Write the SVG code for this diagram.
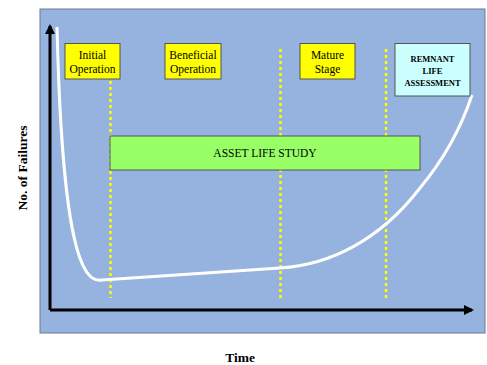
<svg xmlns="http://www.w3.org/2000/svg" width="487" height="365" viewBox="0 0 487 365">
  <style>
    .lbl { font-family: "Liberation Serif", "Times New Roman", serif; fill: #000; text-anchor: middle; }
    .phase { stroke: #555; stroke-width: 1; }
    .yellow { fill: #ffff00; }
    .guide { stroke: #ffff00; stroke-width: 2.5; stroke-dasharray: 3 3; fill: none; }
    .axis { stroke: #000; stroke-width: 3; fill: none; }
  </style>
  <defs>
    <marker id="arrow" viewBox="0 0 10 10" refX="8" refY="5" markerWidth="3.4" markerHeight="3.4" orient="auto" markerUnits="strokeWidth">
      <path d="M0,0 L10,5 L0,10 z" fill="#000"/>
    </marker>
  </defs>

  <rect width="487" height="365" fill="#ffffff"/>

  <!-- plot area -->
  <rect id="plot-area" x="40" y="9" width="445" height="324" fill="#95b3de" stroke="#6b7a8c" stroke-width="1"/>

  <!-- axis titles -->
  <text class="lbl" x="0" y="0" font-size="13.5" font-weight="bold" transform="translate(27,168) rotate(-90)">No. of Failures</text>
  <text class="lbl" x="240" y="362" font-size="13.5" font-weight="bold">Time</text>

  <g id="connectors">
    <!-- phase boundaries -->
    <line class="guide" x1="110.5" y1="81" x2="110.5" y2="298"/>
    <line class="guide" x1="280.5" y1="49" x2="280.5" y2="298"/>
    <line class="guide" x1="386" y1="49" x2="386" y2="298"/>
    <!-- axes -->
    <path class="axis" d="M50,310 L50,26" marker-end="url(#arrow)"/>
    <path class="axis" d="M50,310 L472,310" marker-end="url(#arrow)"/>
    <!-- bathtub failure curve -->
    <path d="M57,27 C60,150 68,255 90,276 Q95,281 102,280 L280,268 C330,265 380,240 420,188 C445,158 462,125 472,95" fill="none" stroke="#ffffff" stroke-width="3"/>
  </g>

  <g id="initial-operation">
    <rect class="phase yellow" x="65" y="43.5" width="55" height="35.5"/>
    <text class="lbl" x="92.5" y="59" font-size="11.5">Initial</text>
    <text class="lbl" x="92.5" y="73" font-size="11.5">Operation</text>
  </g>

  <g id="beneficial-operation">
    <rect class="phase yellow" x="165" y="43.5" width="56" height="35.5"/>
    <text class="lbl" x="193" y="59" font-size="11.5">Beneficial</text>
    <text class="lbl" x="193" y="73" font-size="11.5">Operation</text>
  </g>

  <g id="mature-stage">
    <rect class="phase yellow" x="300" y="43.5" width="55" height="35.5"/>
    <text class="lbl" x="327.5" y="59" font-size="11.5">Mature</text>
    <text class="lbl" x="327.5" y="73" font-size="11.5">Stage</text>
  </g>

  <g id="remnant-life-assessment">
    <rect class="phase" x="395" y="43.5" width="75" height="52.5" fill="#ccffff"/>
    <text class="lbl" x="432.5" y="62" font-size="8.5" font-weight="bold">REMNANT</text>
    <text class="lbl" x="432.5" y="74" font-size="8.5" font-weight="bold">LIFE</text>
    <text class="lbl" x="432.5" y="86" font-size="8.5" font-weight="bold">ASSESSMENT</text>
  </g>

  <g id="asset-life-study">
    <rect class="phase" x="110" y="136" width="310" height="34" fill="#99ff66"/>
    <text class="lbl" x="265" y="157" font-size="11.5">ASSET LIFE STUDY</text>
  </g>
</svg>
